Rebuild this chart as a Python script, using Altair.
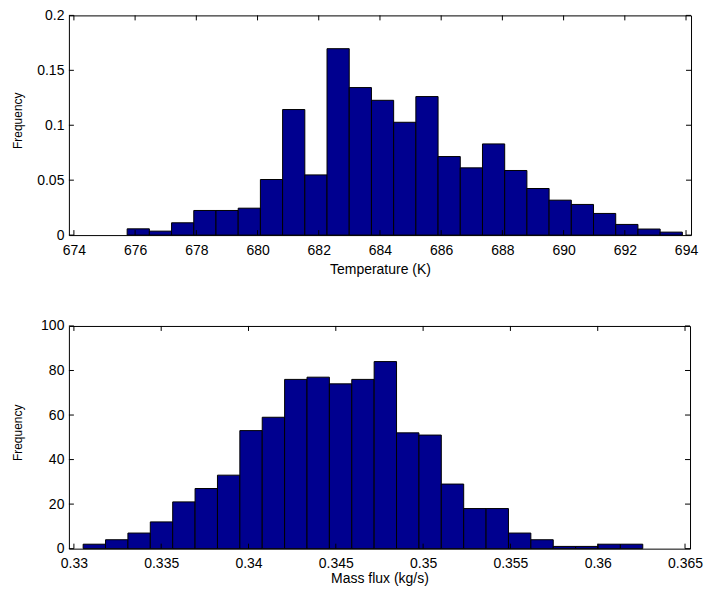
import altair as alt
import numpy as np
import pandas as pd

# ---- Temperature histogram (normalised frequency per bin) ----
temp_first_edge = 675.74
temp_bin_width = 0.7256
temp_freq = [0.0057, 0.0036, 0.0112, 0.0224, 0.0224, 0.0245, 0.0506, 0.1143, 0.0548, 0.1697,
             0.1343, 0.1227, 0.1027, 0.1261, 0.0715, 0.0612, 0.0830, 0.0588, 0.0424, 0.0318,
             0.0279, 0.0197, 0.0097, 0.0055, 0.0027]
temp_xticks = [674, 676, 678, 680, 682, 684, 686, 688, 690, 692, 694]
temp_yticks = [0, 0.05, 0.1, 0.15, 0.2]

# ---- Mass flux histogram (counts per bin) ----
flux_first_edge = 0.33053
flux_bin_width = 0.001282
flux_counts = [2, 4, 7, 12, 21, 27, 33, 53, 59, 76, 77, 74, 76, 84, 52, 51, 29, 18, 18, 7,
               4, 1, 1, 2, 2]
flux_xticks = [0.33, 0.335, 0.34, 0.345, 0.35, 0.355, 0.36, 0.365]
flux_yticks = [0, 20, 40, 60, 80, 100]

BAR_FILL = "#00008F"
FONT = "Liberation Sans"
TICK_LEN = 5


def histogram_panel(first_edge, bin_width, values, xticks, yticks, xtitle,
                    width, height, xtitle_y, xfmt, yfmt):
    n = len(values)
    lo = first_edge + bin_width * np.arange(n)
    bars_df = pd.DataFrame({"lo": lo, "hi": lo + bin_width, "value": values,
                            "base": 0.0})
    x_scale = alt.Scale(domain=[xticks[0], xticks[-1]], nice=False, zero=False)
    y_scale = alt.Scale(domain=[yticks[0], yticks[-1]], nice=False)

    x_axis = alt.Axis(values=xticks, format=xfmt, title=xtitle,
                      labelFlush=False, labelOverlap=False, labelPadding=8,
                      titleY=xtitle_y, titleBaseline="alphabetic")
    y_axis = alt.Axis(values=yticks, format=yfmt, title="Frequency",
                      labelPadding=5, labelOverlap=False,
                      titleX=-51.5, titleY=height / 2 - 5, titleAngle=270,
                      titleAlign="center", titleBaseline="middle",
                      titleFontSize=12)

    bars = alt.Chart(bars_df).mark_bar(
        fill=BAR_FILL, stroke="black", strokeWidth=1, orient="vertical"
    ).encode(
        x=alt.X("lo:Q", scale=x_scale, axis=x_axis, title=xtitle),
        x2="hi:Q",
        y=alt.Y("value:Q", scale=y_scale, axis=y_axis, title="Frequency"),
        y2="base:Q",
    )

    xt = pd.DataFrame({"t": xticks})
    yt = pd.DataFrame({"t": yticks})
    tick = dict(color="black", strokeWidth=1)
    x_bottom = alt.Chart(xt).mark_rule(**tick).encode(
        x=alt.X("t:Q", scale=x_scale, title=xtitle),
        y=alt.value(height), y2=alt.value(height - TICK_LEN))
    x_top = alt.Chart(xt).mark_rule(**tick).encode(
        x=alt.X("t:Q", scale=x_scale, title=xtitle),
        y=alt.value(0), y2=alt.value(TICK_LEN))
    y_left = alt.Chart(yt).mark_rule(**tick).encode(
        y=alt.Y("t:Q", scale=y_scale, title="Frequency"),
        x=alt.value(0), x2=alt.value(TICK_LEN))
    y_right = alt.Chart(yt).mark_rule(**tick).encode(
        y=alt.Y("t:Q", scale=y_scale, title="Frequency"),
        x=alt.value(width - TICK_LEN), x2=alt.value(width))

    return alt.layer(bars, x_bottom, x_top, y_left, y_right).properties(
        width=width, height=height)


top = histogram_panel(temp_first_edge, temp_bin_width, temp_freq, temp_xticks,
                      temp_yticks, "Temperature (K)", 623, 220, 38, "d", "~g")
bottom = histogram_panel(flux_first_edge, flux_bin_width, flux_counts, flux_xticks,
                         flux_yticks, "Mass flux (kg/s)", 622, 223, 34, "~g", "d")

chart = alt.vconcat(top, bottom, spacing=91, bounds="flush").properties(
    padding={"left": 11, "top": 7, "right": 3, "bottom": 6},
    background="white",
).configure_view(
    stroke="black", strokeWidth=1
).configure_axis(
    domain=False, ticks=False, grid=False,
    labelFont=FONT, labelFontSize=14, labelColor="black",
    titleFont=FONT, titleFontSize=14, titleFontWeight="normal", titleColor="black",
)

chart.save("out.html", embed_options={"renderer": "svg", "actions": False})
